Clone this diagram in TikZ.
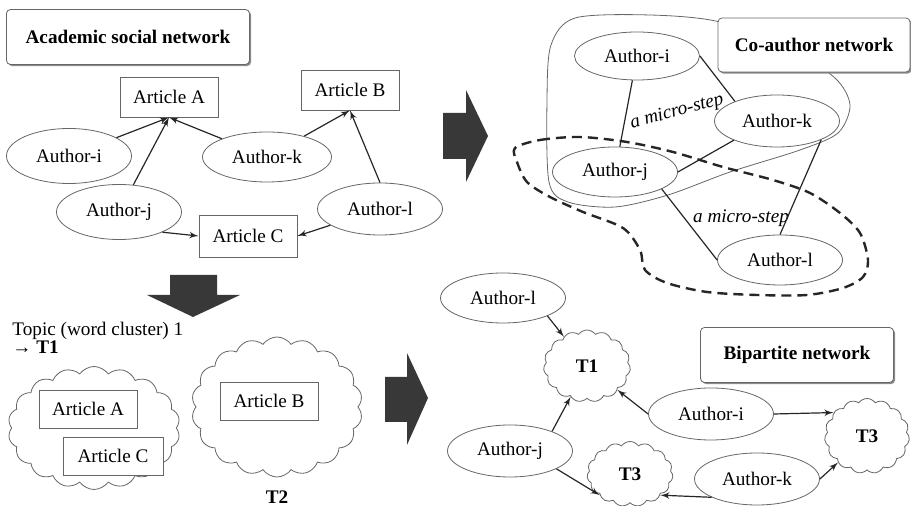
\documentclass[tikz,border=0pt]{standalone}
\usepackage{fontspec}
\setmainfont{Liberation Serif}
\usepackage{tikz}
\usetikzlibrary{shapes,arrows,positioning,calc,shadows,shapes.geometric,shapes.symbols}

\begin{document}
\begin{tikzpicture}[x=0.5pt, y=-0.5pt, >=latex', font=\fontsize{9.6}{9}\selectfont]
    \tikzstyle{title} = [rectangle, draw=black!60, fill=white, rounded corners=2pt, font=\fontsize{9.6}{9}\selectfont\bfseries, minimum width=96pt, minimum height=27pt, drop shadow={shadow xshift=0.8pt, shadow yshift=-0.8pt, fill=black!45, opacity=1}]
    \tikzstyle{article} = [rectangle, draw=black!60, fill=white, minimum width=49pt, minimum height=20pt, inner sep=0pt]
    \tikzstyle{author} = [ellipse, draw=black!60, fill=white, minimum width=62.5pt, minimum height=26pt, inner sep=0pt]
    \tikzstyle{topic} = [cloud, draw=black!60, fill=white, cloud puffs=15, cloud puff arc=110, inner sep=0pt, font=\fontsize{9.6}{9}\selectfont\bfseries]
    \tikzstyle{line} = [draw, -latex', black!85, line width=0.6pt]
    \tikzstyle{edge} = [draw, black!85, line width=0.6pt]
    \tikzstyle{bigarrow} = [fill=black!78]
    \useasboundingbox (0,0) rectangle (911,506);

    % academic social network
    \node [title, minimum width=121.5pt, minimum height=27.5pt] (asn) at (128,37) {Academic social network};
    \node [article] (artA) at (169,97) {Article A};
    \node [article] (artB) at (350,90) {Article B};
    \node [article, minimum height=21pt] (artC) at (248,236) {Article C};
    \node [author, minimum height=27.5pt] (ai) at (69,156) {Author-i};
    \node [author, minimum width=64.5pt, minimum height=25pt] (ak) at (267,157) {Author-k};
    \node [author, minimum height=27.5pt] (aj) at (119,212) {Author-j};
    \node [author] (al) at (380,209) {Author-l};

    \draw [line] (ai) -- (artA.south);
    \draw [line] (aj) -- (artA.south);
    \draw [line] (ak) -- (artA.south);
    \draw [line] (ak) -- (artB.south);
    \draw [line] (al.north) -- (artB.south);
    \draw [line] (aj.-25) -- (artC.west);
    \draw [line] (al) -- (artC.east);

    % big arrows
    \fill [bigarrow] (443,113) -- (466,113) -- (466,90) -- (488,136) -- (466,182) -- (466,159) -- (443,159) -- cycle;
    \fill [bigarrow] (170,275) -- (217,275) -- (217,295) -- (240,295) -- (193,317) -- (147,295) -- (170,295) -- cycle;
    \fill [bigarrow] (385,377) -- (407,377) -- (407,353) -- (428,398) -- (407,445) -- (407,422) -- (385,422) -- cycle;

    % co-author network
    \draw [black!60] plot [smooth cycle] coordinates {(575,18) (650,15) (720,22) (790,50) (835,78) (850,105) (838,133) (800,150) (730,172) (668,195) (615,207) (568,202) (549,182) (547,100) (551,45)};
    \draw [black!85, line width=1.2pt, dash pattern=on 5pt off 3pt] plot [smooth cycle] coordinates {(515,148) (540,140) (580,137) (627,142) (673,152) (723,167) (773,180) (810,193) (840,213) (860,233) (868,260) (863,277) (843,288) (807,295) (757,295) (707,292) (667,283) (645,270) (640,250) (623,228) (583,212) (550,197) (527,182) (517,162)};
    \node [title] (can) at (814,45) {Co-author network};
    \node [author, minimum height=24pt] (cai) at (637,56) {Author-i};
    \node [author] (cak) at (777,121) {Author-k};
    \node [author, minimum height=25pt] (caj) at (615,172) {Author-j};
    \node [author, minimum height=25pt] (cal) at (780,260) {Author-l};
    \node [font=\fontsize{9.6}{9}\selectfont\itshape, rotate=15] (ms1) at (677,112) {a micro-step};
    \node [font=\fontsize{9.6}{9}\selectfont\itshape] (ms2) at (741,218) {a micro-step};

    \draw [edge] (cai) -- (caj);
    \draw [edge] (cai.east) -- (cak.155);
    \draw [edge] (caj.east) -- (cak.204);
    \draw [edge] (caj.-20) -- (cal.west);
    \draw [edge] (cak.-23) -- (cal.north);

    % topics
    \node [align=left, anchor=north west, inner sep=0pt] (topic) at (12,322) {Topic (word cluster) 1\\\textbf{→ T1}};
    \node [topic, cloud puffs=18, minimum width=86pt, minimum height=61.5pt] (ct1) at (94,428) {};
    \node [topic, cloud puffs=18, minimum width=85.5pt, minimum height=70pt] (ct2) at (277,407) {};
    \node [article, minimum height=19pt] (tA) at (88,409) {Article A};
    \node [article, minimum height=19pt, minimum width=50pt] (tC) at (113,456) {Article C};
    \node [article, minimum height=19pt] (tB) at (269,401) {Article B};
    \node [font=\fontsize{9.6}{9}\selectfont\bfseries, below=3pt of ct2] (lt2) {T2};

    % bipartite network
    \node [title, minimum width=96.5pt, minimum height=27.5pt] (bpn) at (797,355) {Bipartite network};
    \node [author, minimum height=25pt] (bal) at (503,298) {Author-l};
    \node [author] (bai) at (711,414) {Author-i};
    \node [author] (baj) at (510,451) {Author-j};
    \node [author] (bak) at (757,479) {Author-k};
    \node [topic, minimum width=43.5pt, minimum height=36pt] (bt1) at (587,366) {T1};
    \node [topic, minimum width=42.5pt, minimum height=37.5pt] (bt3b) at (867,436) {T3};
    \node [topic, minimum width=43pt, minimum height=32.5pt] (bt3a) at (630,474) {T3};

    \draw [line] (bal.-22) -- (bt1);
    \draw [line] (baj.25) -- (bt1);
    \draw [line] (bai.west) -- (bt1);
    \draw [line] (bai.east) -- (bt3b.145);
    \draw [line] (bak.east) -- (bt3b);
    \draw [line] (bak.202) -- (bt3a.-35);
    \draw [line] (baj.-21) -- (bt3a.215);
\end{tikzpicture}
\end{document}
